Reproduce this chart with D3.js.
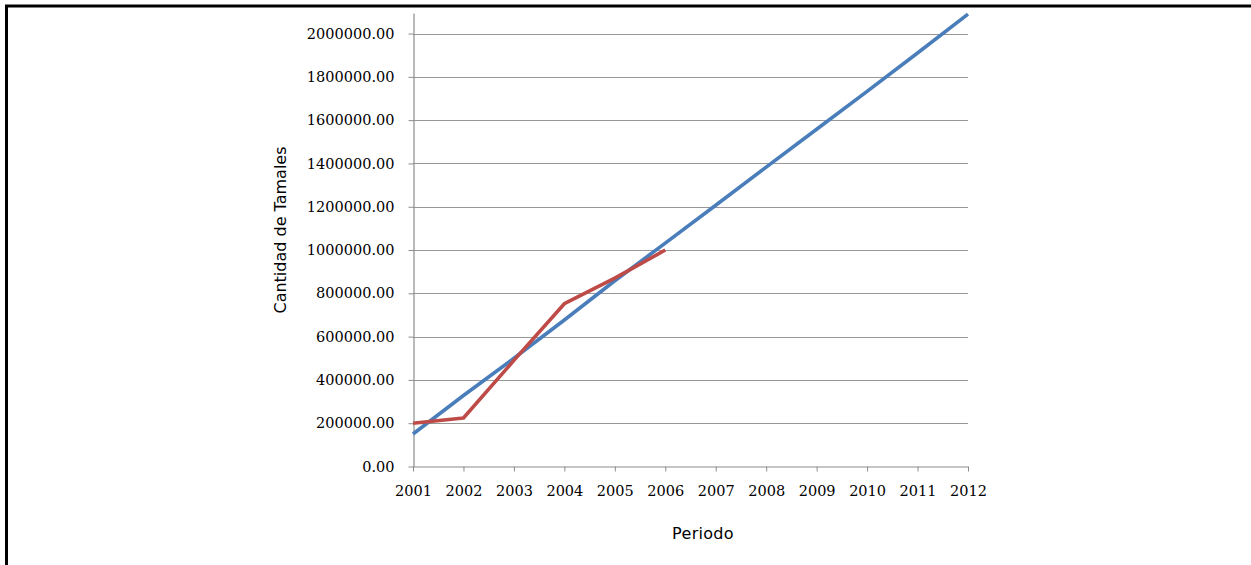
<!DOCTYPE html>
<html>
<head>
<meta charset="utf-8">
<script src="https://cdn.jsdelivr.net/npm/d3@7"></script>
<style>
  html, body { margin: 0; padding: 0; background: #fff; }
  svg { display: block; }
</style>
</head>
<body>
<svg id="chart" width="1251" height="565"></svg>
<script>
// Years on the horizontal axis
const years = [2001, 2002, 2003, 2004, 2005, 2006, 2007, 2008, 2009, 2010, 2011, 2012];
// Trend / forecast series (blue)
const trendValues = [150000, 328000, 500000, 677000, 858000, 1032000, 1207000, 1383000, 1558000, 1733000, 1910000, 2090000];
// Observed series (red), 2001–2006
const observedYears = [2001, 2002, 2003, 2004, 2005, 2006];
const observedValues = [200000, 224000, 490000, 752000, 870000, 1000000];
// Value-axis ticks
const yTicks = [0, 200000, 400000, 600000, 800000, 1000000, 1200000, 1400000, 1600000, 1800000, 2000000];
const yTop = 2095000;

const svg = d3.select("#chart");

// Outer frame (only top and left edges fall inside the view)
svg.append("rect")
  .attr("x", 6.5).attr("y", 6)
  .attr("width", 1300).attr("height", 700)
  .attr("fill", "none").attr("stroke", "#000").attr("stroke-width", 3);

const x = d3.scalePoint().domain(years).range([413, 968]);
const y = d3.scaleLinear().domain([0, yTop]).range([466.5, 13]);

const axisColor = "#8c8c8c";
const gridColor = "#979797";

// Horizontal gridlines
svg.append("g").selectAll("line")
  .data(yTicks.slice(1))
  .join("line")
  .attr("x1", 413).attr("x2", 968)
  .attr("y1", d => Math.round(y(d)) + 0.5).attr("y2", d => Math.round(y(d)) + 0.5)
  .attr("stroke", gridColor).attr("stroke-width", 1.2);

// Y axis
const yAxis = d3.axisLeft(y)
  .tickValues(yTicks)
  .tickSize(5)
  .tickSizeOuter(0)
  .tickPadding(14)
  .tickFormat(d3.format(".2f"));
const gy = svg.append("g").attr("transform", "translate(413.5,0)").call(yAxis);
gy.select(".domain").attr("stroke", axisColor).attr("stroke-width", 1.2);
gy.selectAll(".tick line").attr("stroke", axisColor);
gy.selectAll(".tick text")
  .attr("fill", "#000")
  .style("font-family", "'DejaVu Serif', serif")
  .style("font-size", "14.5px");

// X axis
const xAxis = d3.axisBottom(x)
  .tickSize(5)
  .tickSizeOuter(0)
  .tickPadding(14);
const gx = svg.append("g").attr("transform", "translate(0,466.5)").call(xAxis);
gx.select(".domain").attr("stroke", axisColor).attr("stroke-width", 1.2);
gx.selectAll(".tick line").attr("stroke", axisColor);
gx.selectAll(".tick text")
  .attr("fill", "#000")
  .style("font-family", "'DejaVu Serif', serif")
  .style("font-size", "14.5px");

// Series lines
const line = d3.line().x(d => x(d[0])).y(d => y(d[1]));

svg.append("path")
  .datum(years.map((yr, i) => [yr, trendValues[i]]))
  .attr("d", line)
  .attr("fill", "none")
  .attr("stroke", "#4A7EBB")
  .attr("stroke-width", 3.6)
  .attr("stroke-linejoin", "round");

svg.append("path")
  .datum(observedYears.map((yr, i) => [yr, observedValues[i]]))
  .attr("d", line)
  .attr("fill", "none")
  .attr("stroke", "#BE4B48")
  .attr("stroke-width", 3.6)
  .attr("stroke-linejoin", "round");

// Axis titles
svg.append("text")
  .attr("transform", "translate(286,230) rotate(-90)")
  .attr("text-anchor", "middle")
  .style("font-family", "'DejaVu Sans', sans-serif")
  .style("font-size", "16px")
  .text("Cantidad de Tamales");

svg.append("text")
  .attr("x", 703).attr("y", 539)
  .attr("text-anchor", "middle")
  .style("font-family", "'DejaVu Sans', sans-serif")
  .style("font-size", "16px")
  .style("letter-spacing", "0.3px")
  .text("Periodo");
</script>
</body>
</html>
